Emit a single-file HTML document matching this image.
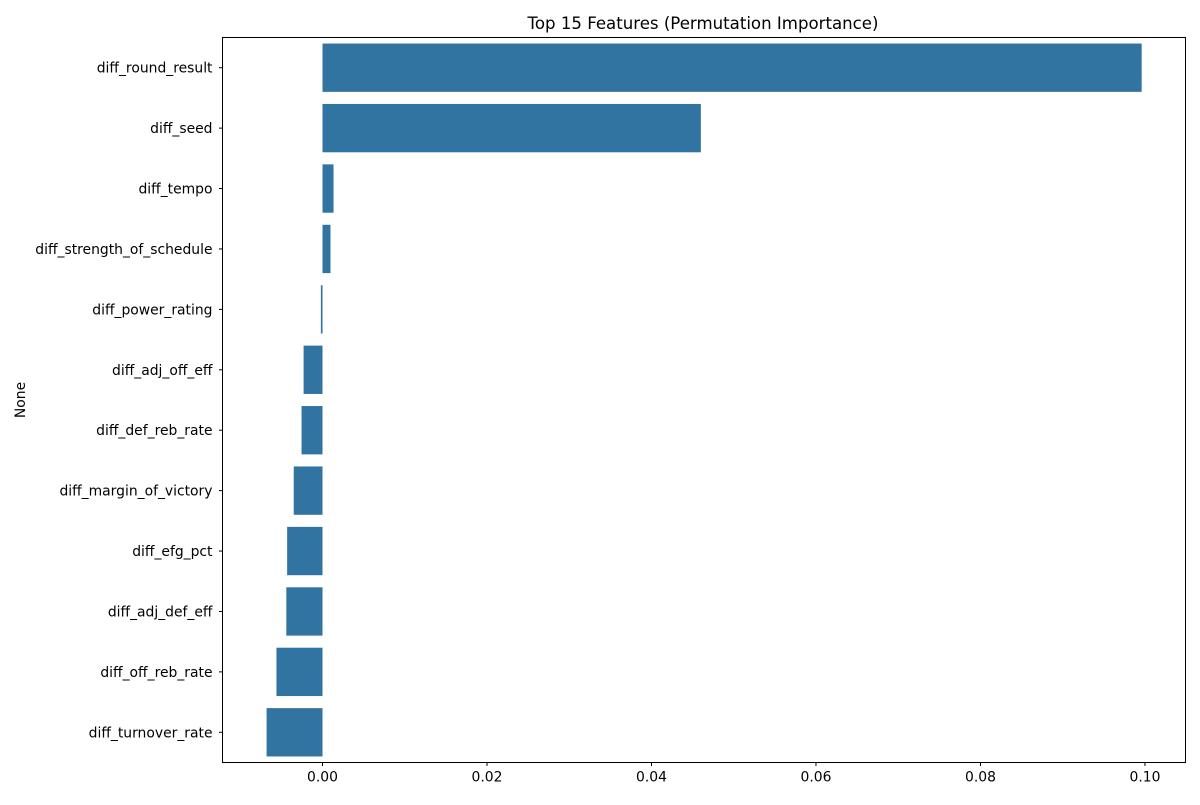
<!DOCTYPE html>
<html><head><meta charset="utf-8"><style>
body{margin:0;background:#fff;}
svg text{font-family:"DejaVu Sans","Liberation Sans",sans-serif;fill:#000;}
</style></head><body>
<svg id="chart" width="1200" height="800" xmlns="http://www.w3.org/2000/svg">
<rect width="1200" height="800" fill="#fff"/>
<text x="703" y="29" text-anchor="middle" font-size="16.6">Top 15 Features (Permutation Importance)</text>
<text transform="translate(25,400) rotate(-90)" text-anchor="middle" font-size="13.9">None</text>
<g id="bars"></g><g id="yticks"></g><g id="xticks"></g>
<rect x="222.5" y="37.5" width="963" height="725" fill="none" stroke="#000" stroke-width="1"/>
</svg>
<script>
const categories=["diff_round_result","diff_seed","diff_tempo","diff_strength_of_schedule","diff_power_rating","diff_adj_off_eff","diff_def_reb_rate","diff_margin_of_victory","diff_efg_pct","diff_adj_def_eff","diff_off_reb_rate","diff_turnover_rate"];
const values=[0.0996,0.0460,0.00134,0.00097,-0.0002,-0.0023,-0.00255,-0.0035,-0.0043,-0.0044,-0.0056,-0.0068];
const xTicks=[0.00,0.02,0.04,0.06,0.08,0.10];
const xTickLabels=["0.00","0.02","0.04","0.06","0.08","0.10"];
const L=222.5,R=1185.5,T=37.5,B=762.5;
const xMin=-0.01216,xMax=0.10493;
const xs=v=>L+(v-xMin)/(xMax-xMin)*(R-L);
const band=(B-T)/categories.length;
const yc=i=>T+band*(i+0.5);
const NS="http://www.w3.org/2000/svg";
const bars=document.getElementById('bars'),yt=document.getElementById('yticks'),xt=document.getElementById('xticks');
categories.forEach((c,i)=>{
  const v=values[i];
  const r=document.createElementNS(NS,'rect');
  const x0=xs(Math.min(0,v)),x1=xs(Math.max(0,v));
  r.setAttribute('x',x0);r.setAttribute('width',Math.max(x1-x0,1));
  r.setAttribute('y',yc(i)-band*0.4);r.setAttribute('height',band*0.8);
  r.setAttribute('fill','#3274a1');
  
  
  bars.appendChild(r);
  const l=document.createElementNS(NS,'line');
  l.setAttribute('x1',L-3.5);l.setAttribute('x2',L);l.setAttribute('y1',yc(i));l.setAttribute('y2',yc(i));l.setAttribute('stroke','#000');
  
  
  yt.appendChild(l);
  const t=document.createElementNS(NS,'text');
  t.setAttribute('x',L-10);t.setAttribute('y',yc(i)+5);t.setAttribute('text-anchor','end');t.setAttribute('font-size','13.9');
  t.textContent=c;
  
  
  yt.appendChild(t);
});
xTicks.forEach((v,i)=>{
  const x=xs(v);
  const l=document.createElementNS(NS,'line');
  l.setAttribute('x1',x);l.setAttribute('x2',x);l.setAttribute('y1',B);l.setAttribute('y2',B+3.5);l.setAttribute('stroke','#000');
  
  
  xt.appendChild(l);
  const t=document.createElementNS(NS,'text');
  t.setAttribute('x',x);t.setAttribute('y',B+19);t.setAttribute('text-anchor','middle');t.setAttribute('font-size','13.9');
  t.textContent=xTickLabels[i];
  
  
  xt.appendChild(t);
});
</script>
</body></html>
